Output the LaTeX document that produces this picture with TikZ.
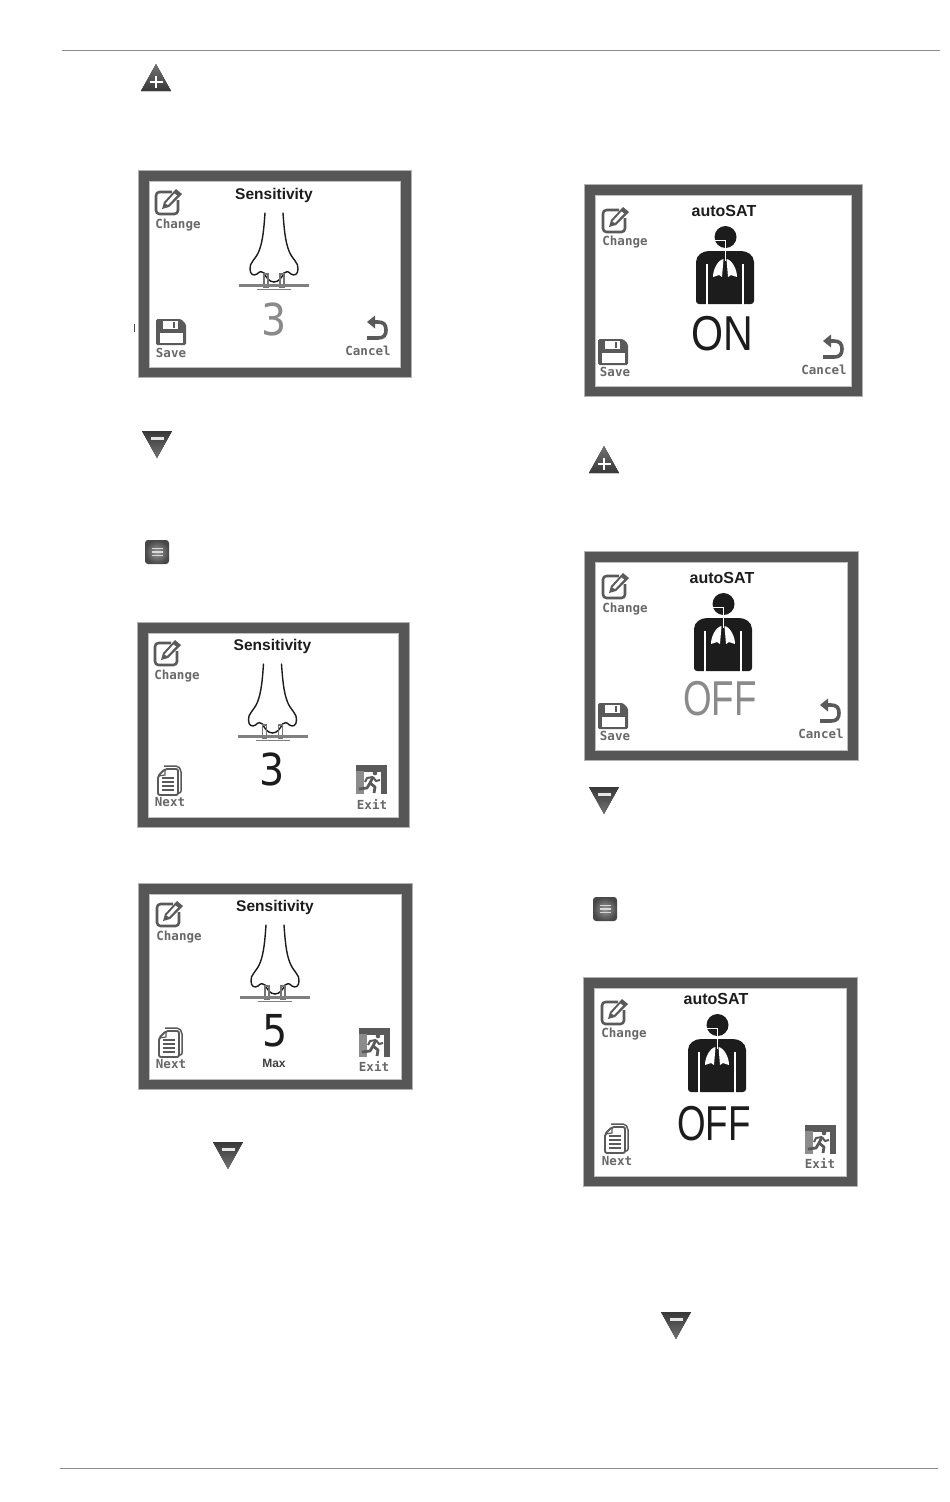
\documentclass[tikz,border=0pt]{standalone}
\usepackage{fontspec}
\setmainfont{Liberation Sans}
\newfontfamily\monof{DejaVu Sans Mono}
\newfontfamily\numf{DejaVu Sans}
\usetikzlibrary{calc}
\definecolor{frm}{HTML}{565656}
\definecolor{icn}{HTML}{5A5A5A}
\definecolor{lbl}{HTML}{686868}
\definecolor{dimn}{HTML}{8A8A8A}
\definecolor{blk}{HTML}{1C1C1C}
\tikzset{
  lab/.style={inner sep=0pt,font=\monof\bfseries\fontsize{12.5}{13}\selectfont,text=lbl},
  ttl/.style={inner sep=0pt,font=\bfseries\fontsize{15.5}{16}\selectfont,text=blk},
  ttlb/.style={inner sep=0pt,font=\bfseries\fontsize{16}{17}\selectfont,text=blk},
  numb/.style={inner sep=0pt,font=\numf\fontsize{44}{46}\selectfont,xscale=.9},
  word/.style={inner sep=0pt,font=\fontsize{49}{50}\selectfont,xscale=.84},
  wordb/.style={inner sep=0pt,font=\fontsize{49}{50}\selectfont,xscale=.75},
  ic/.style={draw=icn,line width=2.2pt,line join=round},
  rule/.style={draw=black!45,line width=.7pt}
}
% frame: name, outer x0,y0,x1,y1
\newcommand{\scr}[5]{%
  \node[draw=black!30,line width=.6pt,fill=frm,inner sep=0pt,minimum width=#4pt-#2pt,minimum height=#5pt-#3pt,anchor=north west] (#1) at (#2,#3) {};
  \draw[fill=white,draw=black!25,line width=.8pt] ($(#2,#3)+(11.5,11.5)$) rectangle ($(#4,#5)+(-11,-10)$);
}
\newcommand{\ichg}[2]{\begin{scope}[shift={(#1,#2)}]
  \draw[ic,line width=2.6pt,rounded corners=3.5pt] (5,-10) -- (-11,-10) -- (-11,12) -- (11,12) -- (11,-2);
  \fill[icn] (-5,7) -- (-3,0) -- (9,-13) -- (15,-8) -- (2,5) -- cycle;
  \fill[white] (-1.5,1.5) -- (7.5,-8.5) -- (10,-6.5) -- (1,3) -- cycle;
\end{scope}}
\newcommand{\isave}[2]{\begin{scope}[shift={(#1,#2)}]
  \fill[icn,rounded corners=1.5pt] (-15,-13) -- (10,-13) -- (15,-8) -- (15,13) -- (-15,13) -- cycle;
  \fill[white] (-8,-11) rectangle (7,-3.5);
  \fill[icn] (1.5,-10) rectangle (4,-4.5);
  \fill[white] (-11.5,1) rectangle (11.5,10.5);
\end{scope}}
\newcommand{\icancel}[2]{\begin{scope}[shift={(#1,#2)}]
  \fill[icn] (-10,-7) -- (-2,-13.5) -- (-2,-.5) -- cycle;
  \draw[icn,line width=3.6pt] (-3,-7) -- (1,-7) .. controls (7,-7) and (9,-4) .. (9,1) .. controls (9,6) and (7,9) .. (1,9) -- (-10,9);
\end{scope}}
\newcommand{\inext}[2]{\begin{scope}[shift={(#1,#2)}]
  \draw[ic,line width=1.5pt,rounded corners=2pt] (-5,-15) -- (9,-15) -- (12,-11) -- (12,12) -- (8,12);
  \draw[ic,line width=1.9pt,fill=white,rounded corners=2pt] (-4,-12) -- (9,-12) -- (9,14) -- (-11,14) -- (-11,-5) -- cycle;
  \foreach \yy in {-3,1,5,9}{\draw[icn,line width=1.7pt] (-7,\yy) -- (5,\yy);}
  \draw[icn,line width=1.2pt] (-4,-12) -- (-4,-6) -- (-11,-5);
\end{scope}}
\newcommand{\iexit}[2]{\begin{scope}[shift={(#1,#2)}]
  \fill[icn] (-15,-15) rectangle (16,14);
  \fill[black!45] (-15,-9) rectangle (-7,14);
  \fill[white] (-7,-8) rectangle (10,14);
  \fill[icn] (4,-7) circle (2.3);
  \draw[icn,line width=2.8pt,line join=round] (2,-3) -- (-1,3) -- (4,7) -- (3,13);
  \draw[icn,line width=2.8pt,line join=round] (-1,3) -- (-4,8) -- (-12,9);
  \draw[icn,line width=2pt,line join=round] (2,-3) -- (-4,-2) -- (-6,2);
  \draw[icn,line width=2pt,line join=round] (2,-3) -- (5,1) -- (9,0);
\end{scope}}
\newcommand{\inose}[2]{\begin{scope}[shift={(#1,#2)}]
  \foreach \s in {-1,1}{
   \begin{scope}[xscale=\s]
   \draw[blk,line width=1.4pt,line cap=round] (-9,0) .. controls (-10,14) and (-11,28) .. (-15,38) .. controls (-18,46) and (-25,50) .. (-24,56) .. controls (-24,62) and (-20,63) .. (-17,61) .. controls (-14,58) and (-12,58) .. (-10,60) .. controls (-8,64) and (-5,69) .. (0,69);
   \draw[black!55,line width=1.3pt] (-10,61) rectangle (-6,74);
   \end{scope}}
  \draw[black!50,line width=2.6pt] (-35,72.5) -- (35,72.5);
  \draw[black!50,line width=1.2pt] (-17,76.5) -- (17,76.5);
\end{scope}}
\newcommand{\ibody}[2]{\begin{scope}[shift={(#1,#2)}]
  \fill[blk] (0.5,10) circle (11);
  \fill[blk,rounded corners=3pt] (-29,77) -- (-29,38) .. controls (-29,28) and (-22,24) .. (-13,24) -- (13,24) .. controls (22,24) and (29,28) .. (29,38) -- (29,77) -- cycle;
  \draw[white,line width=2.2pt] (-18,37) -- (-18,78) (18,37) -- (18,78);
  \draw[white,line width=.8pt] (-10,13) -- (0,13) -- (0,34);
  \fill[white] (-1.5,32) .. controls (-7,33) and (-12,42) .. (-12,50) -- (-6,48) -- (-3,50) -- cycle;
  \fill[white] (1.5,32) .. controls (7,33) and (12,42) .. (12,50) -- (6,48) -- (3,50) -- cycle;
\end{scope}}
\newcommand{\itri}[3]{% name, x, y (centre) up
  \fill[top color=black!55,bottom color=black!78] (#2-15,#3+14) -- (#2,#3-13) -- (#2+15,#3+14) -- cycle;
  \node[inner sep=0pt,minimum size=1pt] (#1) at (#2,#3+4) {};
  \draw[white,line width=2.6pt] (#2-6.5,#3+5) -- (#2+6.5,#3+5) (#2,#3-1.5) -- (#2,#3+11);
}
\newcommand{\dtri}[3]{% name, x, y (centre) down
  \fill[top color=black!78,bottom color=black!55] (#2-15,#3-13) -- (#2,#3+14) -- (#2+15,#3-13) -- cycle;
  \node[inner sep=0pt,minimum size=1pt] (#1) at (#2,#3-6) {};
  \draw[white!90!black,line width=2.4pt] (#2-6.5,#3-5.5) -- (#2+6.5,#3-5.5);
}
\newcommand{\imenu}[3]{%
  \node[inner sep=0pt,minimum size=24pt,rounded corners=3pt,inner color=black!40,outer color=black!72] (#1) at (#2,#3) {};
  \foreach \yy in {-3.5,0,3.5}{\draw[white!85!black,line width=1.1pt] (#2-5.5,#3+\yy) -- (#2+5.5,#3+\yy);}
}
\begin{document}
\begin{tikzpicture}[x=1pt,y=-1pt]
\useasboundingbox (0,0) rectangle (950,1502);
\fill[white] (0,0) rectangle (950,1502);
\coordinate (t0) at (62,50); \coordinate (t1) at (940,50);
\coordinate (b0) at (60,1468); \coordinate (b1) at (938,1468);
\draw[rule] (t0) -- (t1);
\draw[rule] (b0) -- (b1);
\coordinate (k0) at (134,324); \coordinate (k1) at (134,332);
\draw[black!70,line width=.7pt] (k0) -- (k1);

\itri{pa}{156}{77}
\dtri{ma}{157}{444}
\imenu{mna}{157}{552}
\dtri{mb}{228}{1155}
\itri{pb}{604}{459}
\dtri{mc}{604}{800}
\imenu{mnb}{605}{909}
\dtri{md}{676}{1325}

% Sensitivity 3 (grey)
\scr{sa}{138}{170}{411}{377}
\ichg{167}{202}
\node[lab] (sac) at (178,225) {Change};
\node[ttl] (sat) at (274,195) {Sensitivity};
\inose{274}{213}
\node[numb,text=dimn] (san) at (274,319) {3};
\isave{171}{332}
\node[lab] (sas) at (171,353) {Save};
\icancel{377}{329}
\node[lab] (sax) at (368,351) {Cancel};

% Sensitivity 3
\scr{sb}{137}{622}{409}{827}
\ichg{166}{653}
\node[lab] (sbc) at (177,676) {Change};
\node[ttl] (sbt) at (272.5,646) {Sensitivity};
\inose{272.5}{664}
\node[numb,text=blk] (sbn) at (272.5,769) {3};
\inext{169}{781}
\node[lab] (sbs) at (170,802) {Next};
\iexit{371}{780}
\node[lab] (sbx) at (372,804) {Exit};

% Sensitivity 5
\scr{sc}{138}{883}{412}{1089}
\ichg{168}{914}
\node[lab] (scc) at (179,937.5) {Change};
\node[ttl] (sct) at (275,907) {Sensitivity};
\inose{275}{925}
\node[numb,text=blk] (scn) at (275,1031) {5};
\node[inner sep=0pt,font=\bfseries\fontsize{12}{13}\selectfont,text=black!75] (scm) at (274,1063) {Max};
\inext{170}{1043}
\node[lab] (scs) at (171,1064) {Next};
\iexit{374}{1043}
\node[lab] (scx) at (374,1066) {Exit};

% autoSAT ON
\scr{aa}{584}{184}{862}{396}
\ichg{614}{220}
\node[lab] (aac) at (625,242.5) {Change};
\node[ttlb] (aat) at (724,211) {autoSAT};
\ibody{725}{227}
\node[word,text=blk] (aan) at (722,334) {ON};
\isave{613}{352}
\node[lab] (aas) at (615,371.5) {Save};
\icancel{833}{348}
\node[lab] (aax) at (824,370) {Cancel};

% autoSAT OFF grey
\scr{ab}{584}{551}{858}{760}
\ichg{614}{586}
\node[lab] (abc) at (625,609) {Change};
\node[ttlb] (abt) at (722,578) {autoSAT};
\ibody{723}{594}
\node[wordb,text=dimn] (abn) at (720,699) {OFF};
\isave{613}{716}
\node[lab] (abs) at (615,735.5) {Save};
\icancel{830}{712}
\node[lab] (abx) at (821,734) {Cancel};

% autoSAT OFF
\scr{ac}{583}{977}{857}{1186}
\ichg{613}{1012}
\node[lab] (acc) at (624,1034.5) {Change};
\node[ttlb] (act) at (716,999) {autoSAT};
\ibody{717}{1015}
\node[wordb,text=blk] (acn) at (714,1124) {OFF};
\inext{616}{1139}
\node[lab] (acs) at (617,1161) {Next};
\iexit{820}{1140}
\node[lab] (acx) at (820,1163) {Exit};
\end{tikzpicture}
\end{document}
